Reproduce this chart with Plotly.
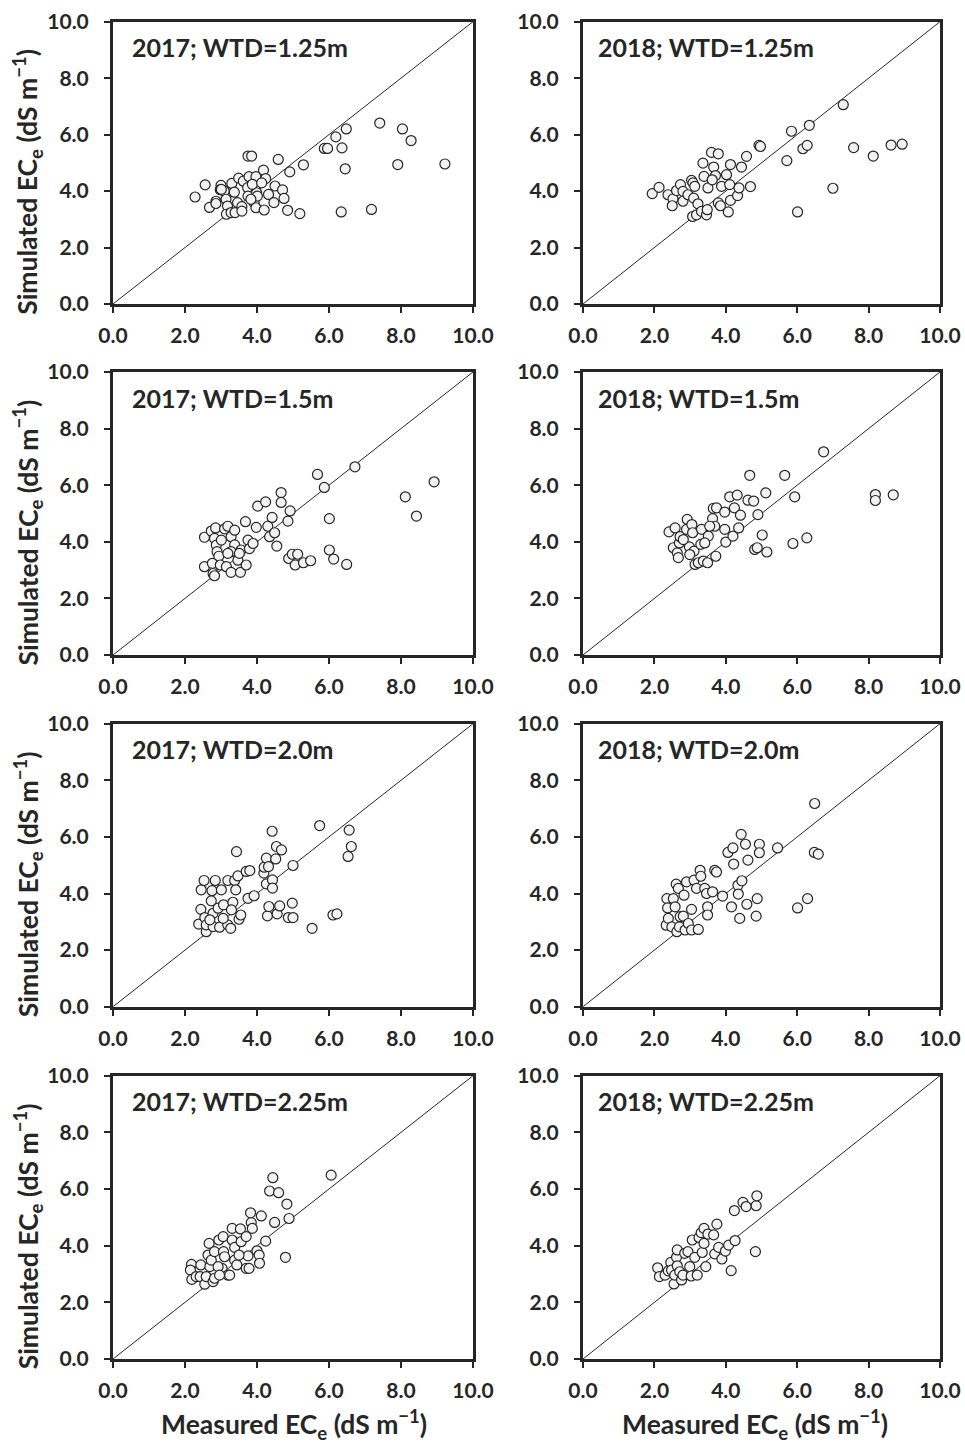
import plotly.graph_objects as go

# ---------------- data (Measured ECe, Simulated ECe; dS m-1) ----------------
meas_2017_125 = [2.28,2.56,2.68,2.86,2.86,3.00,2.98,3.09,3.14,3.18,3.15,3.28,3.39,3.30,3.37,3.49,3.46,3.58,3.58,3.62,
                 3.74,3.75,3.85,3.78,3.75,3.92,3.97,3.99,4.01,3.97,4.18,4.24,4.20,4.32,4.50,4.47,4.71,4.75,4.59,4.85,
                 4.91,5.19,5.29,5.87,5.96,6.19,6.48,6.36,6.45,6.34,7.18,7.41,8.04,8.28,7.91,9.22,3.01,3.87,4.13,3.83]
sim_2017_125 = [3.79,4.22,3.42,3.64,3.56,4.20,4.05,4.00,3.71,3.47,3.18,3.24,3.24,4.27,3.96,4.46,3.59,3.45,3.29,4.35,
                4.12,5.24,5.24,4.51,3.82,3.59,4.51,3.94,3.82,3.41,4.74,4.44,3.33,3.88,4.18,3.59,4.04,3.74,5.12,3.32,
                4.68,3.20,4.93,5.51,5.51,5.92,6.20,5.53,4.79,3.26,3.35,6.41,6.20,5.79,4.94,4.96,4.06,4.24,4.29,3.71]

meas_2018_125 = [1.94,2.13,2.38,2.52,2.50,2.62,2.73,2.80,2.80,2.94,3.04,3.08,3.13,3.10,3.22,3.07,3.18,3.32,3.46,3.48,
                 3.36,3.39,3.50,3.60,3.79,3.66,3.71,3.62,3.88,3.79,3.85,4.02,4.13,4.11,4.13,4.07,4.33,4.37,4.44,4.58,
                 4.69,4.93,4.97,5.71,5.84,6.01,6.16,6.28,6.34,7.00,7.29,7.58,8.13,8.63,8.94]
sim_2018_125 = [3.91,4.13,3.87,3.72,3.48,4.02,4.23,3.99,3.64,3.87,4.38,4.29,4.17,3.75,3.55,3.10,3.16,3.28,3.16,3.34,
                4.99,4.52,4.11,5.37,5.32,4.85,4.55,4.40,4.17,3.58,3.48,4.58,4.94,4.23,3.67,3.26,3.84,4.11,4.85,5.23,
                4.16,5.62,5.58,5.08,6.12,3.26,5.50,5.62,6.33,4.10,7.06,5.54,5.24,5.63,5.66]

meas_2017_15 = [2.54,2.73,2.85,2.82,2.87,2.89,2.94,2.54,2.76,2.78,2.82,2.98,3.10,3.19,3.28,3.38,3.38,3.28,3.15,3.28,
                3.47,3.54,3.56,3.68,3.70,3.75,3.79,3.98,4.02,4.24,4.30,4.35,4.42,4.49,4.55,4.67,4.67,4.92,4.86,4.88,
                4.98,5.13,5.06,5.29,5.49,5.68,5.87,6.01,6.01,6.13,6.49,6.72,8.12,8.43,8.92,3.01,3.19,3.51,3.89]
sim_2017_15 = [4.16,4.38,4.49,4.12,3.88,3.65,3.49,3.12,3.24,2.88,2.80,3.18,4.46,4.55,4.18,4.41,3.89,3.65,3.12,2.92,
               3.35,2.92,3.71,4.71,3.18,4.06,3.76,4.51,5.26,5.41,4.55,4.18,4.86,4.32,3.85,5.74,5.39,5.09,4.73,3.41,
               3.56,3.56,3.18,3.26,3.33,6.38,5.92,4.82,3.71,3.39,3.20,6.65,5.59,4.91,6.12,4.06,3.59,3.59,3.94]

meas_2018_15 = [2.41,2.58,2.53,2.64,2.67,2.70,2.72,2.92,2.90,2.98,3.05,3.07,3.11,3.14,3.23,3.32,3.30,3.37,3.51,3.49,
                3.63,3.65,3.74,3.69,3.72,3.97,3.97,4.00,4.11,4.20,4.24,4.32,4.36,4.41,4.62,4.67,4.78,4.81,4.88,4.90,
                5.02,5.12,5.15,5.65,5.88,5.93,6.27,6.74,8.19,8.19,8.69,2.81,2.99,3.41,3.55]
sim_2018_15 = [4.35,4.49,3.79,3.61,3.44,3.96,4.18,4.79,4.44,3.82,4.61,4.32,3.67,3.20,3.26,4.44,3.91,3.32,4.20,3.26,
               4.82,5.18,5.20,4.55,3.49,5.05,4.44,3.99,5.59,4.20,5.20,5.65,4.49,4.94,5.47,6.35,5.44,3.73,3.79,4.96,
               4.24,5.73,3.64,6.35,3.94,5.59,4.14,7.18,5.67,5.46,5.66,4.08,3.55,3.96,4.55]

meas_2017_20 = [2.38,2.45,2.44,2.53,2.55,2.59,2.59,2.75,2.73,2.78,2.84,2.78,2.92,2.96,3.01,3.07,3.19,3.19,3.27,3.33,
                3.38,3.41,3.43,3.47,3.50,3.55,3.70,3.80,3.75,3.92,4.19,4.20,4.26,4.32,4.26,4.29,4.33,4.42,4.43,4.43,
                4.52,4.54,4.56,4.63,4.68,4.87,5.00,5.00,4.98,5.53,5.74,6.11,6.22,6.53,6.56,6.62,2.69,3.06,3.29]
sim_2017_20 = [2.92,4.13,3.44,4.46,3.15,2.65,2.89,4.10,3.74,3.30,4.46,2.83,3.48,2.81,4.13,3.60,4.46,2.89,2.77,3.69,
               4.46,4.13,5.48,4.62,3.09,3.24,4.78,4.81,3.83,3.92,4.72,4.93,5.25,4.95,4.34,3.21,3.54,6.20,4.48,4.19,
               5.22,5.66,3.28,3.56,5.54,3.15,3.15,4.99,3.66,2.77,6.40,3.24,3.28,5.31,6.24,5.66,3.07,3.12,3.42]

meas_2018_20 = [2.33,2.35,2.37,2.39,2.49,2.53,2.58,2.61,2.63,2.67,2.70,2.72,2.81,2.83,2.86,2.90,2.95,3.04,3.04,3.11,
                3.18,3.23,3.28,3.30,3.41,3.46,3.49,3.49,3.63,3.69,3.74,3.91,4.06,4.16,4.20,4.22,4.34,4.35,4.39,4.43,
                4.45,4.55,4.59,4.62,4.85,4.88,4.94,4.94,5.45,6.01,6.29,6.48,6.59,6.49]
sim_2018_20 = [2.88,3.82,3.49,3.12,2.82,3.82,3.53,4.33,2.65,4.18,2.82,3.18,3.20,3.94,2.71,4.41,2.94,3.44,2.71,4.47,
               4.18,2.73,4.82,4.61,4.18,4.00,3.53,3.24,4.06,4.82,4.76,3.91,5.45,3.53,5.61,5.04,4.29,3.98,3.12,6.09,
               4.45,5.74,3.62,5.18,3.20,3.82,5.74,5.44,5.61,3.49,3.82,5.45,5.39,7.18]

meas_2017_225 = [2.18,2.15,2.19,2.31,2.42,2.44,2.55,2.59,2.67,2.64,2.69,2.73,2.78,2.82,2.82,2.94,3.06,3.07,3.10,3.03,
                 3.19,3.24,3.31,3.31,3.38,3.38,3.44,3.54,3.56,3.70,3.70,3.78,3.75,3.82,3.84,3.87,4.00,4.06,4.07,4.12,
                 4.24,4.35,4.44,4.60,4.49,4.79,4.83,4.89,6.06,2.92,2.96,3.50]
sim_2017_225 = [3.34,3.14,2.81,2.91,2.91,3.32,2.64,2.91,4.08,3.67,3.26,3.49,2.73,2.85,3.79,4.20,4.32,3.79,3.61,3.20,
                2.96,2.96,4.61,4.20,3.94,3.49,3.32,4.59,4.14,4.32,3.20,3.20,3.64,5.16,4.81,4.61,3.82,3.67,3.38,5.05,
                4.16,5.93,6.40,5.87,4.82,3.59,5.47,4.96,6.49,3.26,2.96,3.67]

meas_2018_225 = [2.09,2.14,2.30,2.39,2.46,2.48,2.55,2.57,2.62,2.64,2.64,2.71,2.76,2.80,2.85,2.94,2.99,3.03,3.06,3.13,
                 3.20,3.25,3.31,3.34,3.39,3.39,3.44,3.50,3.66,3.69,3.75,3.80,3.89,3.99,4.08,4.15,4.26,4.24,4.48,4.57,
                 4.85,4.87,4.83]
sim_2018_225 = [3.22,2.91,2.96,3.11,3.41,3.14,2.65,2.96,3.59,3.85,3.29,3.08,2.79,2.96,3.73,3.79,3.26,2.93,4.20,3.59,
                2.96,4.29,4.46,3.76,4.61,4.08,3.26,4.41,4.38,3.71,4.76,3.94,3.53,3.81,4.02,3.12,4.18,5.24,5.53,5.38,
                5.41,5.76,3.79]

panel_titles = ["2017; WTD=1.25m", "2018; WTD=1.25m",
                "2017; WTD=1.5m", "2018; WTD=1.5m",
                "2017; WTD=2.0m", "2018; WTD=2.0m",
                "2017; WTD=2.25m", "2018; WTD=2.25m"]
measured = [meas_2017_125, meas_2018_125, meas_2017_15, meas_2018_15,
            meas_2017_20, meas_2018_20, meas_2017_225, meas_2018_225]
simulated = [sim_2017_125, sim_2018_125, sim_2017_15, sim_2018_15,
             sim_2017_20, sim_2018_20, sim_2017_225, sim_2018_225]
one_to_one = [0, 10]
tick_vals = [0, 2, 4, 6, 8, 10]
tick_text = ["0.0", "2.0", "4.0", "6.0", "8.0", "10.0"]

# ---------------- layout geometry (pixels) ----------------
W, H = 965, 1444
col_px = [(113, 473), (583, 940)]
row_px = [(21.7, 304), (372, 655), (723.7, 1006.7), (1075.7, 1359)]
title_left_px = [130, 596]

INK = "#262626"
FONT = "Lato"

fig = go.Figure()
layout = dict(width=W, height=H, margin=dict(l=0, r=0, t=0, b=0, pad=0),
              paper_bgcolor="white", plot_bgcolor="white", showlegend=False,
              annotations=[])

for i in range(8):
    r, c = divmod(i, 2)
    n = i + 1
    xa = "x" if n == 1 else f"x{n}"
    ya = "y" if n == 1 else f"y{n}"
    x0, x1 = col_px[c]
    ytop, ybot = row_px[r]
    axis_common = dict(range=[0, 10], tickvals=tick_vals, ticktext=tick_text,
                       ticks="outside", ticklen=6, tickwidth=2, tickcolor=INK,
                       showline=True, linewidth=3, linecolor=INK, mirror=True,
                       showgrid=False, zeroline=False, fixedrange=True,
                       automargin=False,
                       tickfont=dict(family=FONT, size=21, color=INK, weight=700))
    layout["xaxis" if n == 1 else f"xaxis{n}"] = dict(
        axis_common, domain=[x0 / W, x1 / W], anchor=ya, ticklabelstandoff=5)
    layout["yaxis" if n == 1 else f"yaxis{n}"] = dict(
        axis_common, domain=[1 - ybot / H, 1 - ytop / H], anchor=xa,
        ticklabelstandoff=11)

    fig.add_trace(go.Scatter(x=one_to_one, y=one_to_one, mode="lines",
                             line=dict(color=INK, width=1), xaxis=xa, yaxis=ya,
                             hoverinfo="skip"))
    fig.add_trace(go.Scatter(x=measured[i], y=simulated[i], mode="markers",
                             marker=dict(symbol="circle", size=10, color="#f2f2f2",
                                         line=dict(color=INK, width=1.2)),
                             xaxis=xa, yaxis=ya))

    layout["annotations"].append(dict(
        text=panel_titles[i], xref="paper", yref="paper",
        x=title_left_px[c] / W, y=1 - (ytop + 25.5) / H,
        xanchor="left", yanchor="middle", showarrow=False,
        font=dict(family=FONT, size=25, color=INK, weight=700)))

    if c == 0:
        yc = (ytop + ybot) / 2 + 19
        layout["annotations"].append(dict(
            text="Simulated EC<sub>e</sub> (dS m<sup>−1</sup>)",
            xref="paper", yref="paper", x=28 / W, y=1 - yc / H,
            xanchor="center", yanchor="middle", textangle=-90, showarrow=False,
            font=dict(family=FONT, size=26.5, color=INK, weight=700)))

for c, xc in enumerate([294, 755]):
    layout["annotations"].append(dict(
        text="Measured EC<sub>e</sub> (dS m<sup>−1</sup>)",
        xref="paper", yref="paper", x=xc / W, y=1 - 1424 / H,
        xanchor="center", yanchor="middle", showarrow=False,
        font=dict(family=FONT, size=26.5, color=INK, weight=700)))

fig.update_layout(layout)
fig.write_html("out.html")
